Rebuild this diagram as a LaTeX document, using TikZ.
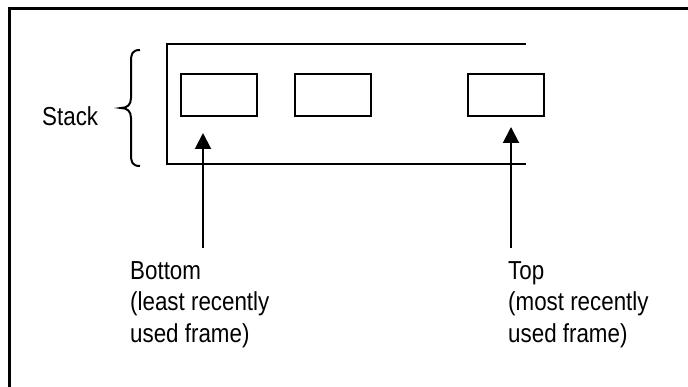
\documentclass[tikz,border=0pt]{standalone}
\usepackage{fontspec}
\setmainfont{Liberation Sans}[FakeStretch=0.86]
\usetikzlibrary{arrows.meta}

\tikzset{
  frameline/.style={line width=3pt},
  wall/.style={line width=2pt},
  slot/.style={draw, line width=2pt, minimum width=76pt, minimum height=42pt, inner sep=0pt},
  pointer/.style={line width=2pt, -{Triangle[width=16pt,length=16pt]}},
  label/.style={inner sep=0pt, align=left, font=\fontsize{26}{31.5}\selectfont},
}

\begin{document}
\begin{tikzpicture}[x=1pt, y=-1pt]
  \useasboundingbox (0,0) rectangle (688,387);

  % outer frame, running off the right and bottom edges
  \draw[frameline] (9.5,387) -- (9.5,8.5) -- (688,8.5);

  % the stack: an open-ended container
  \draw[wall] (526,44) -- (167,44) -- (167,164) -- (526,164);

  % frames on the stack
  \node[slot] (b1) at (219,95) {};
  \node[slot] (b2) at (333,95) {};
  \node[slot] (b3) at (505.5,95) {};

  % brace and its label
  \draw[wall] (140,50) .. controls (132,50) and (131,54) .. (131,62)
              -- (131,98) .. controls (131,105) and (127,108) .. (121,108)
              .. controls (127,108) and (131,111) .. (131,118)
              -- (131,154) .. controls (131,162) and (132,166) .. (140,166);
  \node[label, anchor=base west] (stack) at (42,126) {Stack};

  % pointers
  \coordinate (t1) at (203,248);
  \coordinate (h1) at (203,133);
  \coordinate (t3) at (511,248);
  \coordinate (h3) at (511,127);
  \draw[pointer] (t1) -- (h1);
  \draw[pointer] (t3) -- (h3);

  % captions
  \node[label, anchor=north west] (bottom) at (130,261)
    {Bottom\\(least recently\\used frame)};
  \node[label, anchor=north west] (top) at (508,261)
    {Top\\(most recently\\used frame)};
\end{tikzpicture}
\end{document}
